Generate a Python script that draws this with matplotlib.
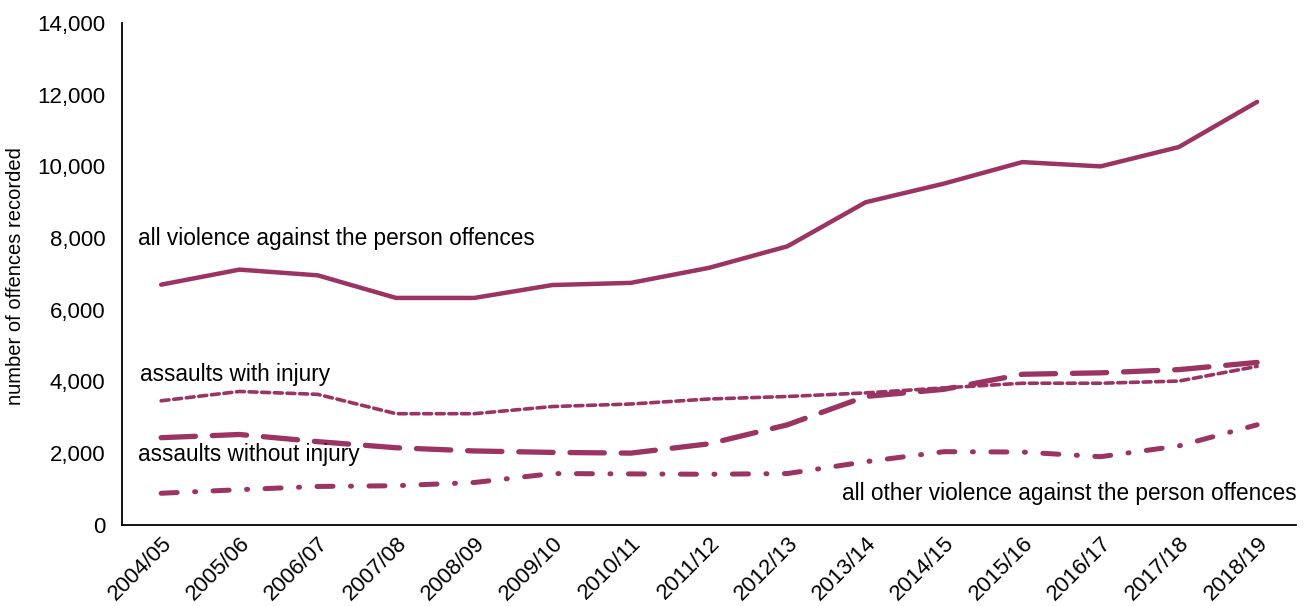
import matplotlib
matplotlib.use("Agg")
import matplotlib.pyplot as plt
from matplotlib.ticker import FuncFormatter

plt.rcParams['font.family'] = ['Liberation Sans', 'DejaVu Sans']

years = ['2004/05', '2005/06', '2006/07', '2007/08', '2008/09', '2009/10', '2010/11',
         '2011/12', '2012/13', '2013/14', '2014/15', '2015/16', '2016/17', '2017/18', '2018/19']

all_violence = [6700, 7120, 6960, 6330, 6330, 6690, 6750, 7170, 7770,
                9000, 9520, 10120, 10000, 10540, 11800]
with_injury = [3460, 3720, 3640, 3100, 3100, 3300, 3370, 3510, 3580,
               3680, 3820, 3950, 3950, 4010, 4420]
without_injury = [2430, 2520, 2320, 2150, 2060, 2020, 2000, 2260, 2790,
                  3580, 3780, 4200, 4240, 4330, 4530]
all_other = [880, 980, 1070, 1090, 1180, 1430, 1420, 1410, 1430,
             1760, 2040, 2030, 1900, 2200, 2790]

col = '#9b3363'

fig, ax = plt.subplots(figsize=(13.12, 6.06), dpi=100)
fig.subplots_adjust(left=0.093, right=0.988, top=0.962, bottom=0.134)

x = list(range(len(years)))
ax.plot(x, all_violence, color=col, lw=3.2, solid_capstyle='round', solid_joinstyle='round')
ax.plot(x, with_injury, color=col, lw=2.6, linestyle=(0, (2.2, 1.3)), dash_capstyle='round')
ax.plot(x, without_injury, color=col, lw=3.8, linestyle=(0, (6.5, 3.2)), dash_capstyle='round')
ax.plot(x, all_other, color=col, lw=3.6, linestyle=(0, (3.2, 3.5, 0.2, 3.5)), dash_capstyle='round')

fs = 16.3
ax.text(-0.3, 8000, 'all violence against the person offences', fontsize=fs, va='center')
ax.text(-0.27, 4180, 'assaults with injury', fontsize=fs, va='center')
ax.text(-0.3, 1950, 'assaults without injury', fontsize=fs, va='center')
ax.text(14.5, 860, 'all other violence against the person offences', fontsize=fs,
        va='center', ha='right')

ax.set_xlim(-0.5, 14.5)
ax.set_ylim(0, 14000)
ax.set_yticks(range(0, 14001, 2000))
ax.yaxis.set_major_formatter(FuncFormatter(lambda v, p: f'{int(v):,}'))
ax.set_xticks(x)
ax.set_xticklabels(years, rotation=45, ha='right', rotation_mode='anchor')
ax.tick_params(length=0, labelsize=16)
ax.tick_params(axis='y', pad=12)
ax.tick_params(axis='x', pad=6)
ax.set_ylabel('number of offences recorded', fontsize=14.5)
ax.yaxis.set_label_coords(-0.083, 0.496)

for s in ['top', 'right']:
    ax.spines[s].set_visible(False)
for s in ['left', 'bottom']:
    ax.spines[s].set_linewidth(1.3)

fig.savefig('out.png', dpi=100)
